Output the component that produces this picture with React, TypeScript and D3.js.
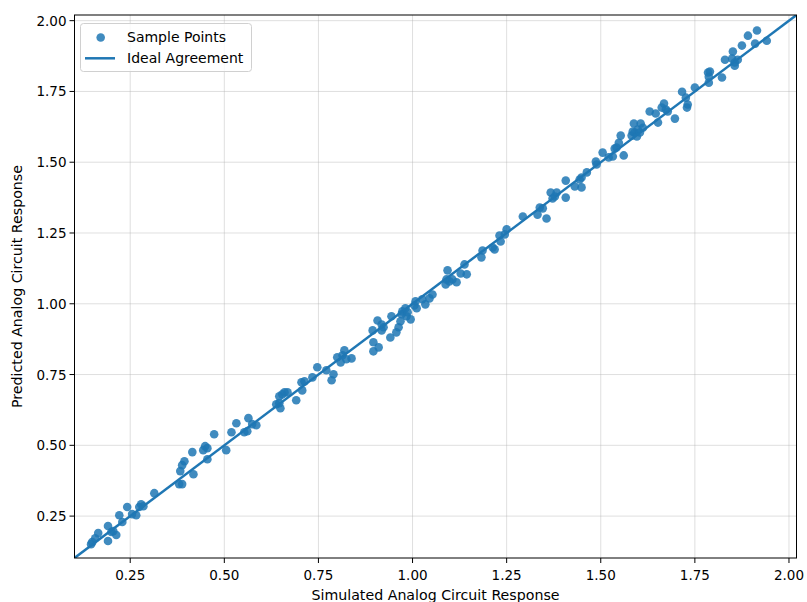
import React from "react";
import * as d3 from "d3";

const simX = [
  0.146, 0.149, 0.157, 0.165, 0.191, 0.191, 0.2, 0.205, 0.213, 0.221, 0.229, 0.242, 0.255, 0.266, 0.274, 0.279, 0.285, 0.314, 0.38, 0.388,
  0.383, 0.388, 0.394, 0.415, 0.418, 0.444, 0.449, 0.455, 0.455, 0.473, 0.505, 0.519, 0.532, 0.553, 0.561, 0.564, 0.574, 0.585,
  0.638, 0.646, 0.649, 0.646, 0.654, 0.66, 0.668, 0.691, 0.705, 0.707, 0.713, 0.734, 0.747, 0.771, 0.785, 0.79, 0.8, 0.809, 0.814, 0.819,
  0.824, 0.838, 0.894, 0.896, 0.896, 0.907, 0.91, 0.918, 0.918, 0.923,
  0.941, 0.944, 0.957, 0.963, 0.968, 0.971, 0.973, 0.981, 0.984, 0.987, 0.995, 1.005, 1.008, 1.011, 1.026, 1.034, 1.045, 1.053, 1.088,
  1.09, 1.093, 1.098, 1.106, 1.117, 1.128, 1.138, 1.144, 1.183, 1.186,
  1.213, 1.218, 1.231, 1.234, 1.245, 1.25, 1.293, 1.332, 1.338, 1.346, 1.356, 1.367, 1.372, 1.378, 1.383, 1.407, 1.407, 1.431, 1.444,
  1.449, 1.449, 1.463,
  1.487, 1.489, 1.505, 1.521, 1.532, 1.537, 1.542, 1.548, 1.553, 1.561, 1.582, 1.585, 1.588, 1.59, 1.596, 1.598, 1.604, 1.606, 1.612,
  1.63, 1.646, 1.652, 1.662, 1.668, 1.673, 1.678, 1.697, 1.716, 1.726, 1.729, 1.731, 1.75,
  1.785, 1.787, 1.79, 1.787, 1.822, 1.83, 1.849, 1.851, 1.856, 1.856, 1.864, 1.875, 1.891, 1.91, 1.915, 1.941,
];
const predY = [
  0.151, 0.158, 0.172, 0.19, 0.162, 0.215, 0.194, 0.197, 0.183, 0.253, 0.229, 0.282, 0.257, 0.253, 0.282, 0.292, 0.285, 0.331, 0.363, 0.363,
  0.409, 0.43, 0.444, 0.476, 0.398, 0.483, 0.497, 0.49, 0.451, 0.539, 0.483, 0.546, 0.578, 0.546, 0.55, 0.596, 0.575, 0.571,
  0.645, 0.649, 0.631, 0.673, 0.68, 0.687, 0.687, 0.659, 0.723, 0.694, 0.726, 0.74, 0.776, 0.765, 0.73, 0.751, 0.811, 0.793, 0.818, 0.836,
  0.804, 0.807, 0.906, 0.864, 0.832, 0.941, 0.846, 0.927, 0.906, 0.917,
  0.881, 0.956, 0.899, 0.917, 0.938, 0.963, 0.973, 0.984, 0.956, 0.97, 0.945, 0.994, 1.009, 0.984, 1.016, 0.998, 1.019, 1.033, 1.068,
  1.086, 1.118, 1.079, 1.086, 1.076, 1.107, 1.139, 1.104, 1.164, 1.188,
  1.199, 1.192, 1.241, 1.22, 1.245, 1.263, 1.308, 1.315, 1.34, 1.337, 1.301, 1.393, 1.372, 1.379, 1.393, 1.435, 1.375, 1.414, 1.439,
  1.446, 1.411, 1.464,
  1.502, 1.492, 1.534, 1.517, 1.52, 1.548, 1.552, 1.569, 1.594, 1.524, 1.594, 1.608, 1.637, 1.605, 1.591, 1.615, 1.605, 1.637, 1.622,
  1.679, 1.672, 1.64, 1.693, 1.707, 1.686, 1.679, 1.654, 1.749, 1.728, 1.693, 1.704, 1.764,
  1.817, 1.781, 1.82, 1.802, 1.799, 1.862, 1.866, 1.891, 1.852, 1.841, 1.862, 1.912, 1.947, 1.919, 1.965, 1.929,
];
const axisLimits = [0.102, 2.02];
const tickValues = [0.25, 0.5, 0.75, 1.0, 1.25, 1.5, 1.75, 2.0];
const xTitle = "Simulated Analog Circuit Response";
const yTitle = "Predicted Analog Circuit Response";
const legendLabels = ["Sample Points", "Ideal Agreement"];

const W = 807;
const H = 602;
const M = { left: 74.5, right: 796.5, top: 15, bottom: 558 };
const BLUE = "#1f77b4";
const FONT = "DejaVu Sans, sans-serif";

export default function App() {
  const x = d3.scaleLinear().domain(axisLimits).range([M.left, M.right]);
  const y = d3.scaleLinear().domain(axisLimits).range([M.bottom, M.top]);
  const pts = simX.map((v, i) => [v, predY[i]] as [number, number]);
  const line = d3.line<number>().x((d) => x(d)).y((d) => y(d));

  return (
    <svg width={W} height={H} style={{ position: "absolute", left: 0, top: 0, background: "#fff" }}>
      <defs>
        <clipPath id="plotclip">
          <rect x={M.left} y={M.top} width={M.right - M.left} height={M.bottom - M.top} />
        </clipPath>
      </defs>
      <rect x={0} y={0} width={W} height={H} fill="#fff" />
      {tickValues.map((t) => (
        <g key={"g" + t}>
          <line x1={x(t)} x2={x(t)} y1={M.top} y2={M.bottom} stroke="#b0b0b0" strokeOpacity={0.5} strokeWidth={0.8} />
          <line x1={M.left} x2={M.right} y1={y(t)} y2={y(t)} stroke="#b0b0b0" strokeOpacity={0.5} strokeWidth={0.8} />
        </g>
      ))}
      <g clipPath="url(#plotclip)">
        {pts.map((p, i) => (
          <circle key={i} cx={x(p[0])} cy={y(p[1])} r={4.3} fill={BLUE} fillOpacity={0.85} />
        ))}
        <path d={line(axisLimits) || ""} stroke={BLUE} strokeWidth={2.5} fill="none" />
      </g>
      <rect x={M.left} y={M.top} width={M.right - M.left} height={M.bottom - M.top} fill="none" stroke="#000" strokeWidth={1} />
      {tickValues.map((t) => (
        <g key={"t" + t} fontFamily={FONT} fontSize={13.5} fill="#000">
          <line x1={x(t)} x2={x(t)} y1={M.bottom} y2={M.bottom + 5} stroke="#000" />
          <text x={x(t)} y={M.bottom + 22} textAnchor="middle">{t.toFixed(2)}</text>
          <line x1={M.left - 5} x2={M.left} y1={y(t)} y2={y(t)} stroke="#000" />
          <text x={M.left - 8} y={y(t) + 5} textAnchor="end">{t.toFixed(2)}</text>
        </g>
      ))}
      <text x={(M.left + M.right) / 2} y={600} textAnchor="middle" fontFamily={FONT} fontSize={14.2}>{xTitle}</text>
      <text transform={`translate(22,${(M.top + M.bottom) / 2}) rotate(-90)`} textAnchor="middle" fontFamily={FONT} fontSize={14.2}>{yTitle}</text>
      <g fontFamily={FONT} fontSize={14}>
        <rect x={80.5} y={23.5} width={171} height={48} rx={3} fill="#fff" fillOpacity={0.8} stroke="#d0d0d0" />
        <circle cx={100.7} cy={37.5} r={4.3} fill={BLUE} fillOpacity={0.85} />
        <text x={127} y={42}>{legendLabels[0]}</text>
        <line x1={85} x2={115} y1={58.3} y2={58.3} stroke={BLUE} strokeWidth={2.5} />
        <text x={127} y={63.3}>{legendLabels[1]}</text>
      </g>
    </svg>
  );
}
